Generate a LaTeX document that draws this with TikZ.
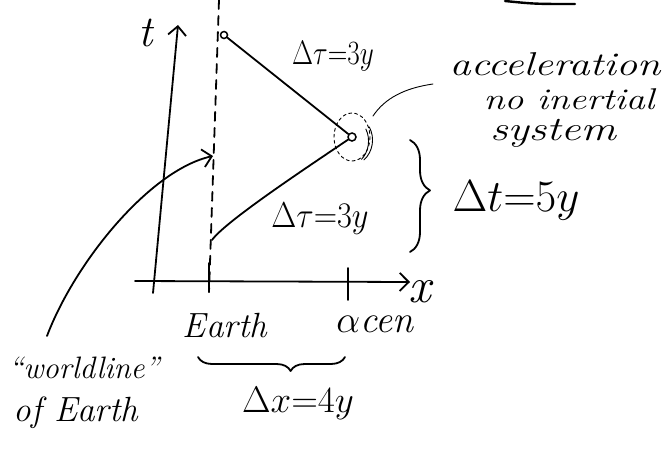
\RequirePackage{fix-cm}
\documentclass[tikz,border=0pt]{standalone}
\usetikzlibrary{arrows.meta,decorations.pathreplacing}
\begin{document}
\begin{tikzpicture}[x=1pt,y=-1pt,
  ink/.style={line width=1.8pt, line cap=round, line join=round},
  thinink/.style={line width=0.9pt, line cap=round},
  hand/.style={font=\fontsize{#1}{#1}\selectfont\itshape, inner sep=0pt},
  hand/.default=34,
  barb/.style={-{Straight Barb[length=9pt,width=18pt,line width=1.8pt]}},
  evt/.style={circle, draw, line width=1.5pt, inner sep=0pt, minimum size=7pt},
]
\useasboundingbox (0,0) rectangle (669,450);
% axes
\coordinate (tbot) at (153,293);
\coordinate (ttop) at (178,25);
\coordinate (xl) at (135,281);
\coordinate (xr) at (410,282);
\draw[ink,barb] (tbot) -- (ttop);
\draw[ink,barb] (xl) -- (xr);
\node[hand=44] (tlab) at (146,33) {t};
\node[hand=50] (xlab) at (420,292) {x};
% ticks
\coordinate (ea1) at (209,263); \coordinate (ea2) at (209,292);
\coordinate (ac1) at (348,268); \coordinate (ac2) at (348,300);
\draw[ink] (ea1) -- (ea2);
\draw[ink] (ac1) -- (ac2);
% dashed worldline of Earth
\coordinate (dtop) at (219,0);
\draw[ink, dash pattern=on 9pt off 7pt] (dtop) -- (ea2);
% twin worldline
\node[evt] (e2) at (224,35) {};
\node[evt, minimum size=8pt] (turn) at (352,137) {};
\coordinate (e0) at (212,240);
\draw[ink] (e0) .. controls (225,222) and (300,172) .. (turn);
\draw[ink] (turn) -- (e2);
\node[hand=34, xscale=0.8] (tau1) at (333,56) {$\Delta\tau{=}3y$};
\node[hand=36, xscale=0.9] (tau2) at (320,219) {$\Delta\tau{=}3y$};
% acceleration marker
\draw[thinink, dash pattern=on 3pt off 3pt] (turn) ellipse (18 and 24);
\draw[thinink] (turn) ++(-30:16) arc[start angle=-30, end angle=50, x radius=20, y radius=24];
\draw[thinink] (turn) ++(-30:20) arc[start angle=-30, end angle=50, x radius=24, y radius=26];
\coordinate (lead0) at (373,116);
\coordinate (lead1) at (433,84);
\node[hand=33, xscale=1.28] (acc) at (555,64) {acceleration};
\node[hand=30, xscale=1.27] (noin) at (569,99) {no inertial};
\node[hand=34, xscale=1.3] (sys) at (553,133) {system};
\draw[thinink] (lead0) .. controls (385,98) and (405,88) .. (lead1);
% time brace
\coordinate (bt1) at (410,140); \coordinate (bt2) at (410,252);
\draw[ink, decorate, decoration={brace, amplitude=20pt, aspect=0.45}] (bt1) -- (bt2);
\node[hand=45] (dt) at (516,200) {$\Delta t{=}5y$};
% space brace
\node[hand=35] (earth) at (225,326) {Earth};
\node[hand=38] (acen) at (375,324) {$\alpha$cen};
\coordinate (bx1) at (345,357); \coordinate (bx2) at (198,357);
\draw[ink, decorate, decoration={brace, amplitude=14pt, aspect=0.37}] (bx1) -- (bx2);
\node[hand=37] (dx) at (298,403) {$\Delta x{=}4y$};
% worldline label
\node[hand=31] (wl) at (84,368) {``worldline''};
\node[hand=35] (ofe) at (76,413) {of Earth};
\coordinate (ws) at (47,336);
\coordinate (wtip) at (213,156);
\draw[ink,barb] (ws) .. controls (75,262) and (150,170) .. (wtip);
% stray stroke at top
\coordinate (s1) at (505,1); \coordinate (s2) at (575,4);
\draw[ink, line width=2.4pt] (s1) .. controls (535,4) .. (s2);
\end{tikzpicture}
\end{document}
